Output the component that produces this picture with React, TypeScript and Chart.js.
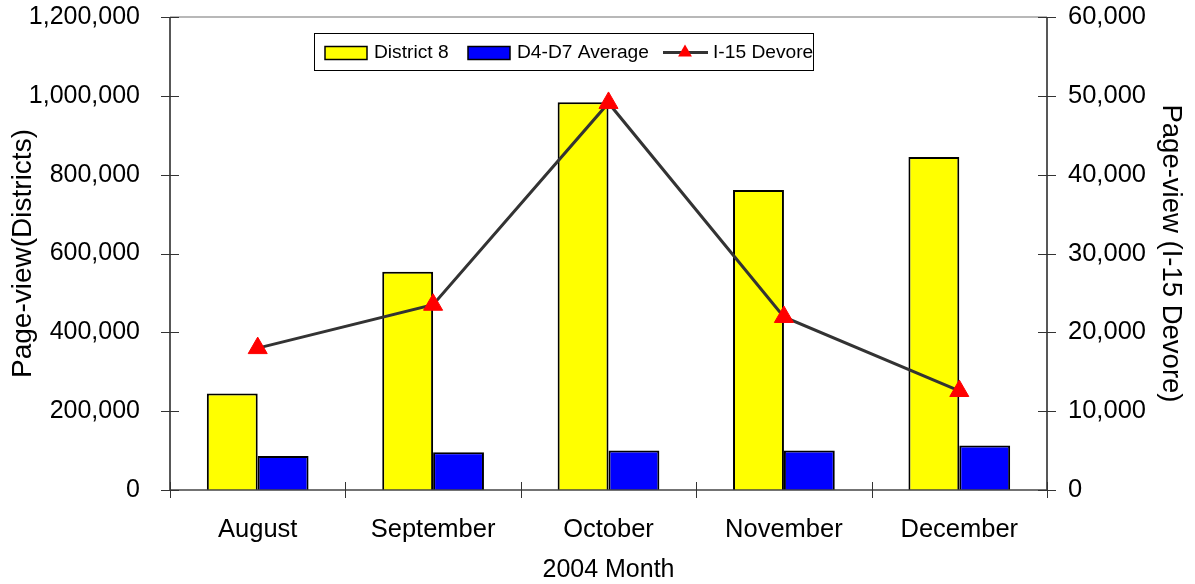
import React, { useEffect, useRef } from 'react';
import { Chart, registerables } from 'chart.js';

Chart.register(...registerables);

const months = ['August', 'September', 'October', 'November', 'December'];
const district8 = [245000, 554000, 984000, 761000, 845000];
const d4d7Average = [86000, 96000, 100000, 100000, 113000];
const i15Devore = [18000, 23500, 49100, 21950, 12560];

const leftMax = 1200000;
const leftStep = 200000;
const rightMax = 60000;
const rightStep = 10000;

const seriesNames = ['District 8', 'D4-D7 Average', 'I-15 Devore'];
const xTitle = '2004 Month';
const leftTitle = 'Page-view(Districts)';
const rightTitle = 'Page-view (I-15 Devore)';

const FONT = "'Liberation Sans', Arial, sans-serif";

const fmt = (v: number) => Number(v).toLocaleString('en-US');

const decorPlugin = {
  id: 'decor',
  afterDraw(chart: any) {
    const { ctx, chartArea } = chart;
    const { left, right, top, bottom } = chartArea;
    const y = chart.scales.y;
    const y1 = chart.scales.y1;
    ctx.save();
    // top border
    ctx.strokeStyle = '#a0a0a0';
    ctx.lineWidth = 1.5;
    ctx.beginPath();
    ctx.moveTo(left, top);
    ctx.lineTo(right, top);
    ctx.stroke();
    // axes
    ctx.strokeStyle = '#222';
    ctx.lineWidth = 1.5;
    ctx.beginPath();
    ctx.moveTo(left, top);
    ctx.lineTo(left, bottom);
    ctx.moveTo(right, top);
    ctx.lineTo(right, bottom);
    ctx.stroke();
    ctx.strokeStyle = '#444';
    ctx.beginPath();
    ctx.moveTo(left, bottom);
    ctx.lineTo(right, bottom);
    ctx.stroke();
    // ticks
    ctx.strokeStyle = '#333';
    ctx.lineWidth = 1;
    ctx.beginPath();
    for (let v = 0; v <= leftMax; v += leftStep) {
      const py = Math.round(y.getPixelForValue(v)) + 0.5;
      ctx.moveTo(left - 9, py);
      ctx.lineTo(left + 9, py);
    }
    for (let v = 0; v <= rightMax; v += rightStep) {
      const py = Math.round(y1.getPixelForValue(v)) + 0.5;
      ctx.moveTo(right - 9, py);
      ctx.lineTo(right + 9, py);
    }
    const n = months.length;
    for (let i = 0; i <= n; i++) {
      const px = Math.round(left + ((right - left) * i) / n) + 0.5;
      ctx.moveTo(px, bottom - 8);
      ctx.lineTo(px, bottom + 8);
    }
    ctx.stroke();

    // legend
    const bx = left + 144;
    const by = top + 16;
    const bw = 499;
    const bh = 37;
    ctx.fillStyle = '#fff';
    ctx.fillRect(bx, by, bw, bh);
    ctx.strokeStyle = '#000';
    ctx.lineWidth = 1;
    ctx.strokeRect(bx + 0.5, by + 0.5, bw, bh);
    const cy = by + bh / 2 + 1;
    ctx.font = `19.2px ${FONT}`;
    ctx.textBaseline = 'middle';
    ctx.textAlign = 'left';
    const colors = ['#ffff00', '#0000ff'];
    const swX = [bx + 11, bx + 154];
    const txX = [bx + 60, bx + 203];
    for (let i = 0; i < 2; i++) {
      ctx.fillStyle = colors[i];
      ctx.fillRect(swX[i], cy - 6, 42, 13);
      ctx.strokeStyle = '#000';
      ctx.lineWidth = 1.5;
      ctx.strokeRect(swX[i], cy - 6, 42, 13);
      ctx.fillStyle = '#000';
      ctx.fillText(seriesNames[i], txX[i], cy);
    }
    // line sample
    const lx = bx + 349;
    ctx.strokeStyle = '#333';
    ctx.lineWidth = 3;
    ctx.beginPath();
    ctx.moveTo(lx, cy);
    ctx.lineTo(lx + 45, cy);
    ctx.stroke();
    const r = 8;
    const tx = lx + 22;
    ctx.fillStyle = '#ff0000';
    ctx.beginPath();
    ctx.moveTo(tx, cy - r);
    ctx.lineTo(tx + r * 0.866, cy + r * 0.5);
    ctx.lineTo(tx - r * 0.866, cy + r * 0.5);
    ctx.closePath();
    ctx.fill();
    ctx.fillStyle = '#000';
    ctx.fillText(seriesNames[2], lx + 50, cy);
    ctx.restore();
  },
};

const noPad = (s: any) => {
  s.paddingTop = 0;
  s.paddingBottom = 0;
};

export default function App() {
  const ref = useRef<HTMLCanvasElement | null>(null);
  useEffect(() => {
    if (!ref.current) return;
    const chart = new Chart(ref.current, {
      type: 'bar',
      data: {
        labels: months,
        datasets: [
          {
            type: 'line',
            label: seriesNames[2],
            data: i15Devore,
            yAxisID: 'y1',
            borderColor: '#333333',
            borderWidth: 3,
            pointStyle: 'triangle',
            pointRadius: 11,
            pointBackgroundColor: '#ff0000',
            pointBorderColor: '#ff0000',
            pointBorderWidth: 1,
            order: 0,
            tension: 0,
          } as any,
          {
            label: seriesNames[0],
            data: district8,
            yAxisID: 'y',
            backgroundColor: '#ffff00',
            borderColor: '#000',
            borderWidth: 2,
            categoryPercentage: 0.58,
            barPercentage: 1,
            order: 1,
          },
          {
            label: seriesNames[1],
            data: d4d7Average,
            yAxisID: 'y',
            backgroundColor: '#0000ff',
            borderColor: '#000',
            borderWidth: 2,
            categoryPercentage: 0.58,
            barPercentage: 1,
            order: 2,
          },
        ],
      },
      options: {
        animation: false,
        responsive: false,
        maintainAspectRatio: false,
        layout: { padding: { top: 17, left: 0, right: 0, bottom: 0 } },
        plugins: {
          legend: { display: false },
          tooltip: { enabled: false },
        },
        scales: {
          x: {
            grid: { display: false, drawTicks: false },
            border: { display: false },
            ticks: {
              color: '#000',
              font: { family: FONT, size: 25.5 },
              padding: 25,
              maxRotation: 0,
            },
            title: {
              display: true,
              text: xTitle,
              color: '#000',
              font: { family: FONT, size: 25, lineHeight: 1 },
              padding: { top: 0, bottom: 1 },
            },
            afterFit: (s: any) => {
              s.height = 94;
            },
          },
          y: {
            position: 'left',
            min: 0,
            max: leftMax,
            grid: { display: false, drawTicks: false },
            border: { display: false },
            ticks: {
              stepSize: leftStep,
              color: '#000',
              font: { family: FONT, size: 25 },
              padding: 30,
              callback: (v: any) => fmt(v),
            },
            title: {
              display: true,
              text: leftTitle,
              color: '#000',
              font: { family: FONT, size: 28 },
              padding: { top: 6, bottom: 0 },
            },
            afterFit: (s: any) => {
              s.width = 170;
              noPad(s);
            },
          },
          y1: {
            position: 'right',
            min: 0,
            max: rightMax,
            grid: { display: false, drawTicks: false },
            border: { display: false },
            ticks: {
              stepSize: rightStep,
              color: '#000',
              font: { family: FONT, size: 25.5 },
              padding: 21,
              callback: (v: any) => fmt(v),
            },
            title: {
              display: true,
              text: rightTitle,
              color: '#000',
              font: { family: FONT, size: 27.5 },
              padding: { top: 8, bottom: 0 },
            },
            afterFit: (s: any) => {
              s.width = 148;
              noPad(s);
            },
          },
        },
      },
      plugins: [decorPlugin],
    });
    return () => chart.destroy();
  }, []);
  return (
    <div style={{ position: 'absolute', left: 0, top: 0, width: 1195, height: 584, background: '#fff' }}>
      <canvas ref={ref} width={1195} height={584} style={{ display: 'block' }} />
    </div>
  );
}
